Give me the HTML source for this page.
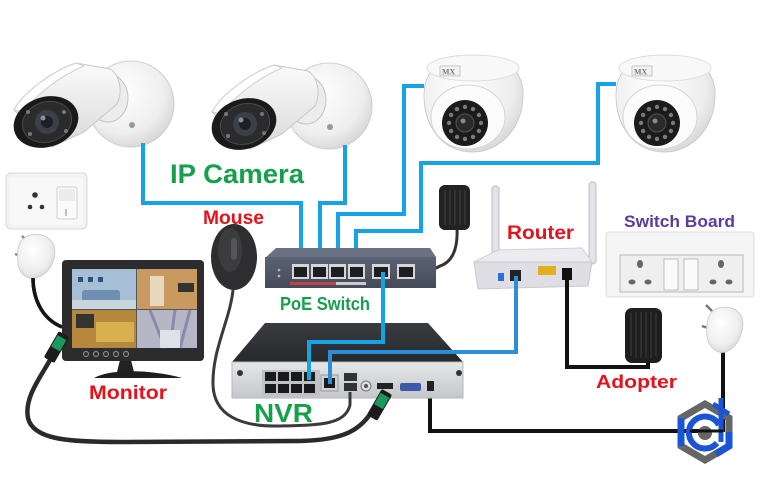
<!DOCTYPE html>
<html>
<head>
<meta charset="utf-8">
<style>
html,body{margin:0;padding:0;background:#fff;}
svg{display:block;}
text{font-family:"Liberation Sans",Arial,sans-serif;font-weight:bold;}
</style>
</head>
<body>
<svg width="760" height="480" viewBox="0 0 760 480" xmlns="http://www.w3.org/2000/svg">
<defs>
  <radialGradient id="gw" cx="40%" cy="35%" r="70%">
    <stop offset="0" stop-color="#ffffff"/>
    <stop offset="0.7" stop-color="#eeeeee"/>
    <stop offset="1" stop-color="#d4d4d4"/>
  </radialGradient>
  <linearGradient id="gbody" x1="0" y1="0" x2="0" y2="1">
    <stop offset="0" stop-color="#fbfbfb"/>
    <stop offset="1" stop-color="#d9d9d9"/>
  </linearGradient>
  <linearGradient id="gnvrtop" x1="0" y1="0" x2="0" y2="1">
    <stop offset="0" stop-color="#3a3c40"/>
    <stop offset="1" stop-color="#26282b"/>
  </linearGradient>
  <linearGradient id="gnvrfront" x1="0" y1="0" x2="0" y2="1">
    <stop offset="0" stop-color="#e6e7e9"/>
    <stop offset="1" stop-color="#c4c6c9"/>
  </linearGradient>
  <linearGradient id="gsw" x1="0" y1="0" x2="0" y2="1">
    <stop offset="0" stop-color="#5c6374"/>
    <stop offset="1" stop-color="#444a58"/>
  </linearGradient>
  <g id="bullet">
    <circle cx="131" cy="104" r="43" fill="url(#gw)" stroke="#cfcfcf"/>
    <ellipse cx="108" cy="98" rx="20" ry="24" fill="#ececec" stroke="#c2c2c2"/>
    <path d="M14,110 C22,94 50,72 76,63 L110,69 C120,75 123,92 117,104 L84,132 L52,147 Z" fill="url(#gbody)" stroke="#c8c8c8"/>
    <path d="M14,110 C22,94 50,72 76,63 L84,66 C60,76 34,96 24,112 Z" fill="#ffffff" stroke="#d0d0d0"/>
    <ellipse cx="46" cy="122" rx="33" ry="25" transform="rotate(-18 46 122)" fill="#1a1a1a"/>
    <ellipse cx="47" cy="122" rx="25" ry="20" transform="rotate(-18 47 122)" fill="#2b2b2e" stroke="#4a4a4a"/>
    <circle cx="47" cy="122" r="12" fill="#3b3f48"/>
    <circle cx="47" cy="122" r="6" fill="#1e2026"/>
    <circle cx="43" cy="118" r="2.5" fill="#8a8f9a"/>
    <circle cx="28" cy="112" r="2" fill="#777"/>
    <circle cx="64" cy="112" r="2" fill="#777"/>
    <circle cx="30" cy="134" r="2" fill="#777"/>
    <circle cx="66" cy="131" r="2" fill="#777"/>
    <circle cx="132" cy="125" r="3" fill="#999"/>
  </g>
  <g id="dome">
    <path d="M424,95 C424,65 448,55 473,55 C500,55 523,65 523,95 C523,128 500,152 472,152 C444,152 424,128 424,95 Z" fill="url(#gw)" stroke="#cccccc"/>
    <ellipse cx="473" cy="68" rx="46" ry="13" fill="#f8f8f8" stroke="#dddddd"/>
    <rect x="440" y="66" width="20" height="10" fill="#f2f2f2" stroke="#aaa" stroke-width="0.6"/>
    <text x="442" y="74.5" font-size="8" fill="#777" font-weight="normal" style="font-family:'Liberation Serif',serif">MX</text>
    <ellipse cx="468" cy="117" rx="37" ry="32" fill="#fbfbfb" stroke="#d4d4d4"/>
    <circle cx="465" cy="123" r="23" fill="#1b1b1b"/>
    <g fill="#7a7a7a">
      <circle cx="481" cy="123" r="2.2"/><circle cx="478.9" cy="131" r="2.2"/><circle cx="473" cy="136.9" r="2.2"/>
      <circle cx="465" cy="139" r="2.2"/><circle cx="457" cy="136.9" r="2.2"/><circle cx="451.1" cy="131" r="2.2"/>
      <circle cx="449" cy="123" r="2.2"/><circle cx="451.1" cy="115" r="2.2"/><circle cx="457" cy="109.1" r="2.2"/>
      <circle cx="465" cy="107" r="2.2"/><circle cx="473" cy="109.1" r="2.2"/><circle cx="478.9" cy="115" r="2.2"/>
    </g>
    <circle cx="465" cy="123" r="9" fill="#2a2a2c" stroke="#555"/>
    <circle cx="463" cy="121" r="2.5" fill="#888"/>
  </g>
</defs>

<!-- Cameras -->
<use href="#bullet"/>
<use href="#bullet" transform="translate(198,2)"/>
<use href="#dome"/>
<use href="#dome" transform="translate(192,0)"/>

<!-- Left wall socket -->
<rect x="6" y="173" width="81" height="56" rx="5" fill="#f3f3f3" stroke="#d8d8d8"/>
<rect x="10" y="177" width="73" height="48" rx="3" fill="#f8f8f8"/>
<circle cx="35" cy="195" r="2.8" fill="#333"/>
<circle cx="30" cy="207" r="2.3" fill="#333"/>
<circle cx="42" cy="207" r="2.3" fill="#333"/>
<rect x="57" y="187" width="20" height="32" rx="2" fill="#fafafa" stroke="#cfcfcf"/>
<rect x="59" y="189" width="16" height="12" fill="#ececec"/>
<line x1="66" y1="209" x2="66" y2="216" stroke="#888" stroke-width="1"/>

<!-- Left plug -->
<path d="M33,278 C33,296 40,318 62,327" fill="none" stroke="#151515" stroke-width="3.5"/>
<line x1="22" y1="236" x2="28" y2="242" stroke="#888" stroke-width="2.5"/>
<line x1="15" y1="254" x2="21" y2="256" stroke="#888" stroke-width="2.5"/>
<path d="M22,240 C32,230 50,234 54,246 C57,258 50,274 36,278 C26,280 18,272 18,262 C17,252 18,244 22,240 Z" fill="url(#gw)" stroke="#cfcfcf"/>

<!-- Blue wires (cameras to switch) -->
<g fill="none" stroke="#16a3e4" stroke-width="4" stroke-linejoin="miter">
  <path d="M143,143 V203 H301 V270"/>
  <path d="M345,145 V203 H320 V270"/>
  <path d="M424,86 H404 V214 H338 V270"/>
  <path d="M616,84 H598 V163 H421 V231 H356 V270"/>
</g>

<!-- Switch adapter -->
<path d="M457,228 C458,250 452,262 440,266 L432,270" fill="none" stroke="#333" stroke-width="3"/>
<rect x="439" y="185" width="31" height="45" rx="6" fill="#222"/>
<g stroke="#3c3c3c" stroke-width="1.2">
  <line x1="445" y1="190" x2="445" y2="225"/><line x1="450" y1="190" x2="450" y2="225"/>
  <line x1="455" y1="190" x2="455" y2="225"/><line x1="460" y1="190" x2="460" y2="225"/>
  <line x1="465" y1="190" x2="465" y2="225"/>
</g>

<!-- PoE Switch -->
<polygon points="276,248 430,248 436,257 265,258" fill="#6a7182"/>
<rect x="265" y="257" width="171" height="31" fill="url(#gsw)"/>
<g fill="#d6d6d6">
  <rect x="292" y="264" width="17" height="15"/><rect x="311" y="264" width="17" height="15"/>
  <rect x="329" y="264" width="17" height="15"/><rect x="348" y="264" width="17" height="15"/>
  <rect x="372" y="264" width="18" height="15"/><rect x="397" y="264" width="18" height="15"/>
</g>
<g fill="#1e1e22">
  <rect x="294" y="267" width="13" height="10"/><rect x="313" y="267" width="13" height="10"/>
  <rect x="331" y="267" width="13" height="10"/><rect x="350" y="267" width="13" height="10"/>
  <rect x="374" y="267" width="14" height="10"/><rect x="399" y="267" width="14" height="10"/>
</g>
<rect x="290" y="282" width="46" height="3" fill="#c0404a"/>
<rect x="336" y="282" width="30" height="3" fill="#ccc"/>
<circle cx="279" cy="270" r="1.3" fill="#bbb"/><circle cx="279" cy="276" r="1.3" fill="#bbb"/>

<!-- Router -->
<rect x="492" y="186" width="7" height="78" rx="3.5" fill="#e3e3e8" stroke="#bdbdc4"/>
<rect x="589" y="182" width="7" height="82" rx="3.5" fill="#e3e3e8" stroke="#bdbdc4"/>
<polygon points="474,262 498,250 582,248 592,262" fill="#ececf0" stroke="#d0d0d6"/>
<polygon points="474,262 592,262 588,286 478,289" fill="#dedee4" stroke="#c8c8ce"/>
<rect x="498" y="273" width="6" height="8" fill="#2b6fd8"/>
<rect x="510" y="270" width="11" height="11" fill="#222"/>
<rect x="538" y="266" width="18" height="9" fill="#e0b020"/>
<rect x="562" y="268" width="10" height="12" fill="#111"/>

<!-- Black wires -->
<g fill="none" stroke="#111" stroke-width="4">
  <path d="M567,272 V367 H648 V360"/>
  <path d="M430,390 V431 H705"/>
  <path d="M723,352 V432"/>
</g>

<!-- Right switch board -->
<rect x="606" y="232" width="148" height="65" rx="3" fill="#f5f5f5" stroke="#dcdcdc"/>
<rect x="620" y="255" width="123" height="37" fill="#efefef" stroke="#b8b8b8"/>
<ellipse cx="640" cy="264" rx="3" ry="4" fill="#666"/>
<ellipse cx="632" cy="282" rx="3.5" ry="2.5" fill="#666"/>
<ellipse cx="648" cy="282" rx="3.5" ry="2.5" fill="#666"/>
<rect x="664" y="259" width="14" height="31" fill="#fafafa" stroke="#bdbdbd"/>
<rect x="684" y="259" width="14" height="31" fill="#fafafa" stroke="#bdbdbd"/>
<ellipse cx="721" cy="264" rx="3" ry="4" fill="#666"/>
<ellipse cx="713" cy="282" rx="3.5" ry="2.5" fill="#666"/>
<ellipse cx="729" cy="282" rx="3.5" ry="2.5" fill="#666"/>

<!-- Right adapter -->
<rect x="625" y="308" width="37" height="55" rx="7" fill="#1e1e1e"/>
<g stroke="#383838" stroke-width="1.3">
  <line x1="631" y1="313" x2="631" y2="356"/><line x1="636" y1="312" x2="636" y2="358"/>
  <line x1="641" y1="312" x2="641" y2="358"/><line x1="646" y1="312" x2="646" y2="358"/>
  <line x1="651" y1="312" x2="651" y2="358"/><line x1="656" y1="313" x2="656" y2="356"/>
</g>

<!-- Right wall plug -->
<line x1="712" y1="311" x2="706" y2="305" stroke="#777" stroke-width="2.5"/>
<line x1="708" y1="328" x2="702" y2="326" stroke="#777" stroke-width="2.5"/>
<path d="M712,312 C720,304 738,306 742,318 C745,330 738,348 725,352 C716,354 708,346 707,336 C706,326 707,318 712,312 Z" fill="url(#gw)" stroke="#cfcfcf"/>

<!-- NVR -->
<polygon points="265,323 428,323 463,362 232,362" fill="url(#gnvrtop)"/>
<rect x="232" y="362" width="231" height="36" fill="url(#gnvrfront)" stroke="#b5b7ba"/>
<rect x="262" y="370" width="58" height="26" fill="#bfc1c4"/>
<g fill="#1a1a1c">
  <rect x="265" y="372" width="11" height="9"/><rect x="278" y="372" width="11" height="9"/>
  <rect x="291" y="372" width="11" height="9"/><rect x="304" y="372" width="11" height="9"/>
  <rect x="265" y="384" width="11" height="9"/><rect x="278" y="384" width="11" height="9"/>
  <rect x="291" y="384" width="11" height="9"/><rect x="304" y="384" width="11" height="9"/>
</g>
<rect x="321" y="375" width="17" height="16" fill="#cfd1d3" stroke="#999"/>
<rect x="324" y="378" width="11" height="10" fill="#1a1a1c"/>
<rect x="344" y="373" width="13" height="8" fill="#333"/><rect x="344" y="383" width="13" height="8" fill="#333"/>
<circle cx="366" cy="386" r="5" fill="#ddd" stroke="#777"/>
<circle cx="366" cy="386" r="2" fill="#555"/>
<rect x="377" y="383" width="16" height="6" fill="#222"/>
<rect x="400" y="383" width="21" height="8" rx="2" fill="#3d5aa8"/>
<rect x="427" y="381" width="7" height="10" fill="#222"/>
<circle cx="240" cy="373" r="3" fill="#333"/>
<circle cx="459" cy="373" r="3" fill="#333"/>

<!-- Blue wires to NVR -->
<path d="M383,272 V342 H309 V380" fill="none" stroke="#16a3e4" stroke-width="4"/>
<path d="M516,276 V352 H330 V384" fill="none" stroke="#2a8ed8" stroke-width="4"/>

<!-- Monitor -->
<path d="M33,278 C33,296 40,318 62,327" fill="none" stroke="#151515" stroke-width="3.5"/>
<path d="M120,360 L131,360 L134,372 L117,372 Z" fill="#222"/>
<path d="M94,378 C110,369 150,369 182,378 Z" fill="#1e1e1e"/>
<rect x="62" y="260" width="142" height="101" rx="4" fill="#2c2c2e"/>
<rect x="72" y="269" width="125" height="79" fill="#555"/>
<rect x="72" y="269" width="64" height="40" fill="#a7bfd4"/>
<rect x="82" y="290" width="38" height="12" rx="3" fill="#6f8fb0"/>
<rect x="72" y="300" width="64" height="9" fill="#c8d4de"/>
<rect x="78" y="277" width="5" height="5" fill="#2d4f80"/><rect x="88" y="277" width="5" height="5" fill="#2d4f80"/><rect x="98" y="277" width="5" height="5" fill="#2d4f80"/>
<rect x="137" y="269" width="60" height="40" fill="#c99a60"/>
<rect x="150" y="276" width="14" height="30" fill="#e8d8c0"/>
<rect x="178" y="283" width="16" height="9" fill="#333"/>
<rect x="72" y="310" width="64" height="38" fill="#b5883e"/>
<rect x="76" y="314" width="18" height="14" fill="#333"/>
<rect x="96" y="322" width="38" height="20" fill="#d8b050"/>
<rect x="137" y="310" width="60" height="38" fill="#b6b6c6"/>
<path d="M150,310 L165,348 M175,310 L170,348 M190,310 L180,348" stroke="#8a8aa8" stroke-width="3"/>
<rect x="160" y="330" width="20" height="18" fill="#e0e0e8"/>
<g fill="none" stroke="#888" stroke-width="1.2">
  <circle cx="86" cy="354" r="2.5"/><circle cx="96" cy="354" r="2.5"/><circle cx="106" cy="354" r="2.5"/>
  <circle cx="116" cy="354" r="2.5"/><circle cx="126" cy="354" r="2.5"/>
</g>

<!-- Mouse cable -->
<path d="M233,290 C230,320 212,350 213,385 C214,415 240,427 280,426 C320,425 345,425 350,405 L350,392" fill="none" stroke="#3a3a3a" stroke-width="3"/>
<!-- Mouse -->
<ellipse cx="234" cy="257" rx="23" ry="33" fill="#2e2e30"/>
<ellipse cx="230" cy="250" rx="12" ry="22" fill="#3c3c3f"/>
<rect x="231" y="238" width="6" height="22" rx="3" fill="#555"/>

<!-- HDMI cable -->
<path d="M50,360 C40,378 24,398 28,418 C33,440 70,442 120,442 L300,441 C345,440 360,430 373,410" fill="none" stroke="#2a2a2c" stroke-width="4.5"/>
<g transform="rotate(30 56 348)">
  <rect x="50" y="332" width="12" height="30" rx="2" fill="#1c1c1c"/>
  <rect x="51" y="336" width="10" height="13" fill="#1a9a5a"/>
</g>
<g transform="rotate(30 380 404)">
  <rect x="374" y="390" width="12" height="30" rx="2" fill="#1c1c1c"/>
  <rect x="375" y="394" width="10" height="13" fill="#1a9a5a"/>
</g>

<!-- Logo -->
<g>
  <polygon points="705,404 729,418 729,446 705,460 681,446 681,418" fill="none" stroke="#666" stroke-width="7"/>
  <path d="M681,418 L681,446" stroke="#1a55d8" stroke-width="7"/>
  <path d="M729,432 L729,446 L716,454" fill="none" stroke="#1a55d8" stroke-width="7"/>
  <path d="M713,404 L729,414" stroke="#1a55d8" stroke-width="5"/>
  <path d="M719,425 A16,16 0 1 0 717,443" fill="none" stroke="#1a55d8" stroke-width="6"/>
  <line x1="721" y1="398" x2="721" y2="442" stroke="#1a55d8" stroke-width="5"/>
  <circle cx="705" cy="433" r="7" fill="#666"/>
  <line x1="690" y1="431" x2="723" y2="431" stroke="#111" stroke-width="3"/>
</g>

<!-- Labels -->
<text x="170" y="183" font-size="27" fill="#17a04b" textLength="134" lengthAdjust="spacingAndGlyphs">IP Camera</text>
<text x="203" y="224" font-size="19" fill="#e5121b" textLength="61" lengthAdjust="spacingAndGlyphs">Mouse</text>
<text x="280" y="310" font-size="18" fill="#17a04b" textLength="90" lengthAdjust="spacingAndGlyphs">PoE Switch</text>
<text x="507" y="239" font-size="19" fill="#e5121b" textLength="67" lengthAdjust="spacingAndGlyphs">Router</text>
<text x="624" y="227" font-size="17" fill="#5b3b9b" textLength="111" lengthAdjust="spacingAndGlyphs">Switch Board</text>
<text x="89" y="399" font-size="19" fill="#e5121b" textLength="78" lengthAdjust="spacingAndGlyphs">Monitor</text>
<text x="254" y="422" font-size="26" fill="#17a04b" textLength="59" lengthAdjust="spacingAndGlyphs">NVR</text>
<text x="596" y="388" font-size="18" fill="#e5121b" textLength="81" lengthAdjust="spacingAndGlyphs">Adopter</text>
</svg>
</body>
</html>
